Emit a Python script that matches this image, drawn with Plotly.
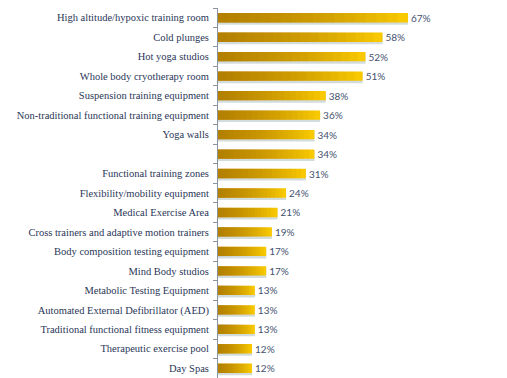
import plotly.graph_objects as go

categories = [
    "High altitude/hypoxic training room",
    "Cold plunges",
    "Hot yoga studios",
    "Whole body cryotherapy room",
    "Suspension training equipment",
    "Non-traditional functional training equipment",
    "Yoga walls",
    " ",
    "Functional training zones",
    "Flexibility/mobility equipment",
    "Medical Exercise Area",
    "Cross trainers and adaptive motion trainers",
    "Body composition testing equipment",
    "Mind Body studios",
    "Metabolic Testing Equipment",
    "Automated External Defibrillator (AED)",
    "Traditional functional fitness equipment",
    "Therapeutic exercise pool",
    "Day Spas",
]
values = [67, 58, 52, 51, 38, 36, 34, 34, 31, 24, 21, 19, 17, 17, 13, 13, 13, 12, 12]

fig = go.Figure()

# shadow
fig.add_trace(go.Bar(
    y=categories, x=values, orientation="h",
    width=0.54, offset=-0.18,
    marker=dict(color="#d3dcdc", line=dict(width=0)),
    hoverinfo="skip", showlegend=False,
))
# main bright bar
fig.add_trace(go.Bar(
    y=categories, x=values, orientation="h",
    width=0.48, offset=-0.24,
    marker=dict(color="#f8c800", line=dict(width=0)),
    text=[f"{v}%" for v in values], textposition="outside",
    constraintext="none",
    textfont=dict(family="Lato, Liberation Sans, sans-serif", size=10, color="#44516f"),
    cliponaxis=False, showlegend=False,
))
# gradient overlays (darker toward the left of each bar)
n = 18
for k in range(1, n):
    f = 1 - k / n
    fig.add_trace(go.Bar(
        y=categories, x=[v * f for v in values], orientation="h",
        width=0.48, offset=-0.24,
        marker=dict(color="rgba(140,100,0,0.055)", line=dict(width=0)),
        hoverinfo="skip", showlegend=False,
    ))

fig.update_layout(
    width=499, height=370,
    margin=dict(l=210, r=0, t=0, b=0, autoexpand=False),
    barmode="overlay",
    paper_bgcolor="white", plot_bgcolor="white",
    xaxis=dict(range=[0, 101.9], visible=False, fixedrange=True, automargin=False),
    yaxis=dict(
        type="category", categoryorder="array", categoryarray=categories,
        autorange="reversed", automargin=False,
        showline=True, linecolor="#8a94a0", linewidth=1,
        ticks="outside", ticklen=4, tickcolor="#8a94a0", tickson="boundaries",
        tickfont=dict(family="Liberation Serif, serif", size=10.5, color="#2a3658"),
        ticklabelstandoff=6,
        showgrid=False, zeroline=False,
    ),
)

fig.write_html("out.html")
